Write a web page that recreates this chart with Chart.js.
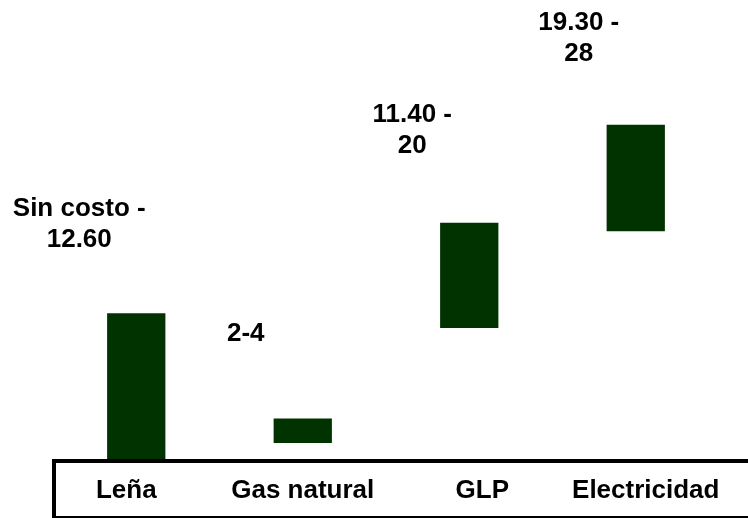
<!DOCTYPE html>
<html>
<head>
<meta charset="utf-8">
<script src="https://cdn.jsdelivr.net/npm/chart.js@4/dist/chart.umd.min.js"></script>
<style>
  html, body { margin: 0; padding: 0; background: #ffffff; }
  #wrap { width: 748px; height: 518px; position: relative; }
</style>
</head>
<body>
<div id="wrap"><canvas id="chart"></canvas></div>
<script>
// Datos del gráfico (costo por fuente de energía)
const categories = ['Leña', 'Gas natural', 'GLP', 'Electricidad'];
const lowValues = [0, 2, 11.4, 19.3];
const highValues = [12.6, 4, 20, 28];
const valueLabels = [['Sin costo -', '12.60'], ['2-4'], ['11.40 -', '20'], ['19.30 -', '28']];

const FONT = 'Arial, "Liberation Sans", sans-serif';
const barColor = '#003300';

// Etiquetas arriba-izquierda de cada barra
const labelPlugin = {
    id: 'valueLabels',
    afterDatasetsDraw(chart) {
        const ctx = chart.ctx;
        const meta = chart.getDatasetMeta(0);
        const lift = [73, 85, 77, 71];
        ctx.save();
        ctx.font = 'bold 26px ' + FONT;
        ctx.fillStyle = '#000000';
        ctx.textAlign = 'center';
        ctx.textBaseline = 'middle';
        meta.data.forEach(function(bar, i) {
            const lines = valueLabels[i];
            const x = bar.x - 57;
            const yLast = bar.y - lift[i];
            for (let k = 0; k < lines.length; k++) {
                const y = yLast - (lines.length - 1 - k) * 31;
                ctx.fillText(lines[k], x, y);
            }
        });
        ctx.restore();
    }
};

// Caja del eje X con sus categorías (encima de las barras)
const axisBoxPlugin = {
    id: 'axisBox',
    afterDatasetsDraw(chart) {
        const ctx = chart.ctx;
        const area = chart.chartArea;
        const xScale = chart.scales.x;
        const left = area.left + 1;
        const top = area.bottom - 6.5;
        ctx.save();
        ctx.fillStyle = '#ffffff';
        ctx.fillRect(left, top, chart.width - left + 10, chart.height - top + 10);
        ctx.strokeStyle = '#000000';
        ctx.lineWidth = 4;
        ctx.strokeRect(left, top, chart.width - left + 10, chart.height - top);

        // las etiquetas no quedan centradas igual bajo cada barra
        const shift = [-10, 0, 13, 10];
        ctx.font = 'bold 26px ' + FONT;
        ctx.fillStyle = '#000000';
        ctx.textAlign = 'center';
        ctx.textBaseline = 'alphabetic';
        categories.forEach(function(c, i) {
            ctx.fillText(c, xScale.getPixelForTick(i) + shift[i], area.bottom + 30.5);
        });
        ctx.restore();
    }
};

const rangeData = categories.map(function(c, i) { return [lowValues[i], highValues[i]]; });

new Chart(document.getElementById('chart'), {
    type: 'bar',
    data: {
        labels: categories,
        datasets: [{
            data: rangeData,
            backgroundColor: barColor,
            borderWidth: 0,
            categoryPercentage: 1,
            barPercentage: 0.35
        }]
    },
    options: {
        responsive: true,
        maintainAspectRatio: false,
        animation: false,
        layout: { padding: { left: 53, right: 29, top: 0, bottom: 0 } },
        plugins: {
            legend: { display: false },
            tooltip: { enabled: false }
        },
        scales: {
            x: {
                grid: { display: false, drawTicks: false },
                border: { display: false },
                ticks: { display: false },
                afterFit: function(scale) { scale.height = 50.5; }
            },
            y: {
                display: false,
                min: 0,
                max: 38.2,
                grid: { display: false }
            }
        }
    },
    plugins: [axisBoxPlugin, labelPlugin]
});
</script>
</body>
</html>
